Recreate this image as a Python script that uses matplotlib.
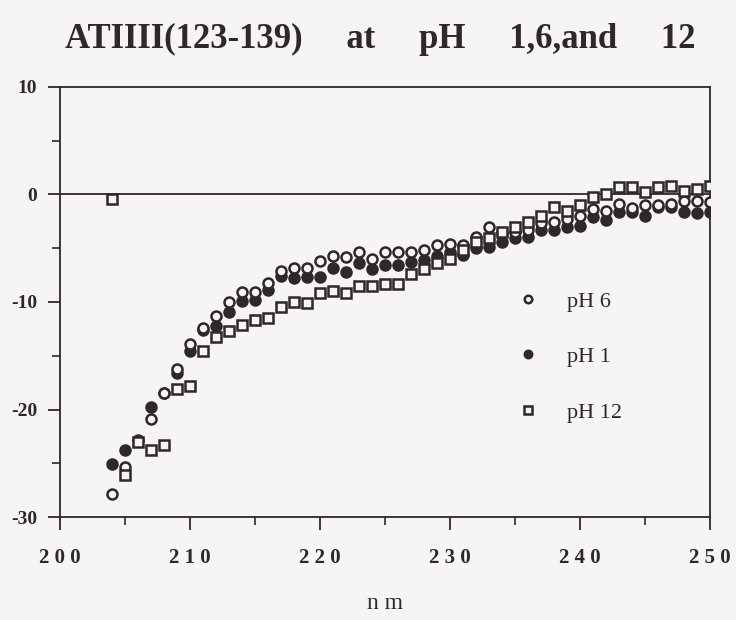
import numpy as np
import matplotlib.pyplot as plt

# wavelengths (nm)
nm = np.arange(204, 251)

# pH 6 (open circles)
ph6 = [-27.9, -25.3, -22.8, -20.9, -18.5, -16.2, -13.9, -12.4, -11.3, -10.0,
       -9.1, -9.1, -8.2, -7.1, -6.8, -6.8, -6.2, -5.7, -5.8, -5.4,
       -6.0, -5.4, -5.4, -5.4, -5.2, -4.7, -4.6, -4.7, -4.0, -3.0,
       -3.6, -3.5, -3.3, -2.7, -2.6, -2.3, -2.0, -1.4, -1.5, -0.9,
       -1.3, -1.0, -1.0, -0.9, -0.6, -0.6, -0.7]

# pH 1 (filled circles), 206 hidden
ph1 = [-25.1, -23.8, np.nan, -19.8, -18.5, -16.6, -14.6, -12.6, -12.2, -10.9,
       -9.9, -9.8, -8.9, -7.6, -7.8, -7.7, -7.7, -6.8, -7.2, -6.4,
       -6.9, -6.6, -6.6, -6.3, -6.1, -5.7, -5.4, -5.6, -5.0, -4.9,
       -4.4, -4.1, -4.0, -3.3, -3.3, -3.0, -2.9, -2.1, -2.4, -1.6,
       -1.6, -2.0, -1.2, -1.2, -1.6, -1.7, -1.6]

# pH 12 (open squares)
ph12 = [-0.4, -26.1, -23.0, -23.8, -23.3, -18.1, -17.8, -14.6, -13.3, -12.7,
        -12.1, -11.7, -11.5, -10.5, -10.0, -10.1, -9.2, -9.0, -9.2, -8.5,
        -8.5, -8.3, -8.3, -7.4, -6.9, -6.4, -6.0, -5.2, -4.4, -4.1,
        -3.5, -3.0, -2.6, -2.0, -1.2, -1.5, -1.0, -0.2, 0.0, 0.7,
        0.7, 0.2, 0.7, 0.8, 0.3, 0.5, 0.8]

xticks = [200, 210, 220, 230, 240, 250]
xticklabels = [" ".join(str(t)) for t in xticks]
yticks = [-30, -20, -10, 0, 10]

bg = '#f6f4f4'
ink = '#2e2828'

plt.rcParams['font.family'] = ['Liberation Serif', 'DejaVu Serif']

fig = plt.figure(figsize=(7.36, 6.2), dpi=100, facecolor=bg)
ax = fig.add_axes([0.081, 0.166, 0.884, 0.694], facecolor=bg)

ax.axhline(0, color=ink, lw=1.3, zorder=1)

ax.plot(nm, ph1, 'o', ms=7.5, mfc=ink, mec=ink, mew=1.5, ls='none',
        label='pH 1', zorder=3)
ax.plot(nm, ph6, 'o', ms=7.2, mfc=bg, mec=ink, mew=1.8, ls='none',
        label='pH 6', zorder=4)
ax.plot(nm, ph12, 's', ms=7.8, mfc=bg, mec=ink, mew=1.8, ls='none',
        label='pH 12', zorder=5)

ax.set_xlim(200, 250)
ax.set_ylim(-30, 10)
ax.set_xticks(xticks)
ax.set_xticklabels(xticklabels, fontsize=15, fontweight='bold')
ax.set_xticks(np.arange(205, 250, 10), minor=True)
ax.set_yticks(yticks)
ax.set_yticklabels([str(t) for t in yticks], fontsize=14, fontweight='bold')
ax.set_yticks([-25, -15, -5, 5], minor=True)
ax.tick_params(axis='both', which='major', direction='out', length=9,
               width=1.3, color=ink, labelcolor=ink)
ax.tick_params(axis='both', which='minor', direction='out', length=6,
               width=1.2, color=ink)
ax.tick_params(axis='x', pad=13)
ax.tick_params(axis='y', pad=7)
for s in ax.spines.values():
    s.set_color(ink)
    s.set_linewidth(1.3)

h, l = ax.get_legend_handles_labels()
order = [1, 0, 2]
ax.legend([h[i] for i in order], [l[i] for i in order], loc='upper left',
          bbox_to_anchor=(0.655, 0.572), frameon=False, fontsize=16,
          markerscale=0.75, labelspacing=1.58, handletextpad=0.75,
          labelcolor=ink)

ax.set_xlabel('n m', fontsize=17, color=ink, labelpad=18)
fig.text(0.516, 0.937, 'ATIIII(123-139)     at     pH     1,6,and     12',
         ha='center', va='center', fontsize=25, fontweight='bold', color=ink)

fig.savefig('out.png', dpi=100, facecolor=bg)
